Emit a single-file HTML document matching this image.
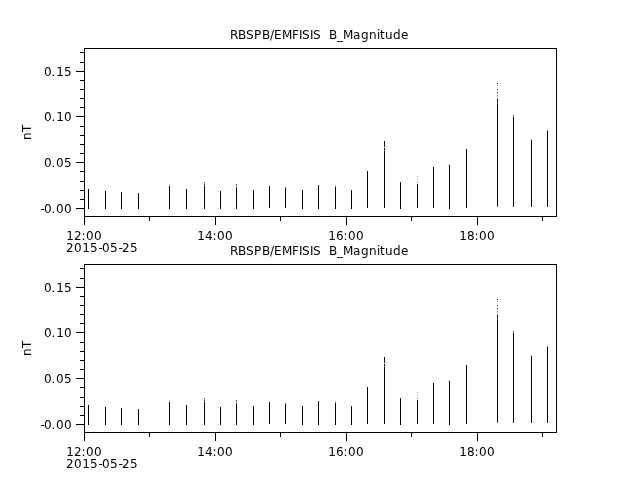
<!DOCTYPE html>
<html lang="en">
<head>
<meta charset="utf-8">
<title>RBSPB/EMFISIS B_Magnitude</title>
<style>
html,body{margin:0;padding:0;background:#fff;}
body{width:640px;height:480px;overflow:hidden;}
svg{display:block;}
.t text{font-family:"DejaVu Sans","Liberation Sans",sans-serif;font-size:12px;fill:#000;white-space:pre;}
</style>
</head>
<body>
<svg width="640" height="480" viewBox="0 0 640 480">
<rect x="0" y="0" width="640" height="480" fill="#fff"/>
<g transform="translate(0,0)">
<g shape-rendering="crispEdges" fill="#000">
<rect x="84" y="48" width="473" height="1"/>
<rect x="84" y="216" width="473" height="1"/>
<rect x="84" y="48" width="1" height="169"/>
<rect x="556" y="48" width="1" height="169"/>
<rect x="80" y="52" width="4" height="1"/>
<rect x="80" y="62" width="4" height="1"/>
<rect x="76" y="71" width="8" height="1"/>
<rect x="80" y="80" width="4" height="1"/>
<rect x="80" y="89" width="4" height="1"/>
<rect x="80" y="98" width="4" height="1"/>
<rect x="80" y="107" width="4" height="1"/>
<rect x="76" y="116" width="8" height="1"/>
<rect x="80" y="126" width="4" height="1"/>
<rect x="80" y="135" width="4" height="1"/>
<rect x="80" y="144" width="4" height="1"/>
<rect x="80" y="153" width="4" height="1"/>
<rect x="76" y="162" width="8" height="1"/>
<rect x="80" y="171" width="4" height="1"/>
<rect x="80" y="181" width="4" height="1"/>
<rect x="80" y="190" width="4" height="1"/>
<rect x="80" y="199" width="4" height="1"/>
<rect x="76" y="208" width="8" height="1"/>
<rect x="84" y="217" width="1" height="8"/>
<rect x="215" y="217" width="1" height="8"/>
<rect x="346" y="217" width="1" height="8"/>
<rect x="477" y="217" width="1" height="8"/>
<rect x="149" y="217" width="1" height="4"/>
<rect x="280" y="217" width="1" height="4"/>
<rect x="411" y="217" width="1" height="4"/>
<rect x="542" y="217" width="1" height="4"/>
<rect x="88" y="189" width="1" height="20"/>
<rect x="105" y="191" width="1" height="18"/>
<rect x="121" y="192" width="1" height="17"/>
<rect x="138" y="193" width="1" height="16"/>
<rect x="169" y="186" width="1" height="23"/>
<rect x="169" y="184" width="1" height="1" fill-opacity="0.3"/>
<rect x="169" y="185" width="1" height="1" fill-opacity="0.15"/>
<rect x="186" y="189" width="1" height="20"/>
<rect x="204" y="186" width="1" height="23"/>
<rect x="204" y="182" width="1" height="1" fill-opacity="0.7"/>
<rect x="204" y="183" width="1" height="1" fill-opacity="0.3"/>
<rect x="204" y="184" width="1" height="1" fill-opacity="0.8"/>
<rect x="204" y="185" width="1" height="1" fill-opacity="0.5"/>
<rect x="220" y="191" width="1" height="18"/>
<rect x="236" y="188" width="1" height="21"/>
<rect x="236" y="184" width="1" height="1" fill-opacity="0.7"/>
<rect x="236" y="185" width="1" height="2" fill-opacity="0.4"/>
<rect x="236" y="187" width="1" height="1" fill-opacity="0.6"/>
<rect x="253" y="190" width="1" height="19"/>
<rect x="269" y="186" width="1" height="22"/>
<rect x="285" y="188" width="1" height="20"/>
<rect x="285" y="187" width="1" height="1" fill-opacity="0.5"/>
<rect x="302" y="190" width="1" height="19"/>
<rect x="318" y="185" width="1" height="24"/>
<rect x="335" y="187" width="1" height="22"/>
<rect x="335" y="185" width="1" height="1" fill-opacity="0.4"/>
<rect x="335" y="186" width="1" height="1" fill-opacity="0.3"/>
<rect x="351" y="190" width="1" height="19"/>
<rect x="367" y="171" width="1" height="37"/>
<rect x="384" y="151" width="1" height="57"/>
<rect x="384" y="141" width="1" height="6" fill-opacity="0.95"/>
<rect x="384" y="147" width="1" height="1" fill-opacity="0.15"/>
<rect x="384" y="148" width="1" height="2" fill-opacity="0.9"/>
<rect x="384" y="150" width="1" height="1" fill-opacity="0.6"/>
<rect x="400" y="182" width="1" height="27"/>
<rect x="417" y="184" width="1" height="24"/>
<rect x="417" y="176" width="1" height="1" fill-opacity="0.25"/>
<rect x="417" y="177" width="1" height="5" fill-opacity="0.08"/>
<rect x="417" y="182" width="1" height="1" fill-opacity="0.5"/>
<rect x="417" y="183" width="1" height="1" fill-opacity="0.1"/>
<rect x="433" y="167" width="1" height="41"/>
<rect x="449" y="165" width="1" height="44"/>
<rect x="449" y="164" width="1" height="1" fill-opacity="0.3"/>
<rect x="466" y="149" width="1" height="59"/>
<rect x="497" y="104" width="1" height="102"/>
<rect x="497" y="81" width="1" height="2" fill-opacity="0.15"/>
<rect x="497" y="83" width="1" height="1" fill-opacity="0.9"/>
<rect x="497" y="85" width="1" height="1" fill-opacity="0.2"/>
<rect x="497" y="86" width="1" height="3" fill-opacity="0.08"/>
<rect x="497" y="89" width="1" height="1" fill-opacity="0.75"/>
<rect x="497" y="90" width="1" height="2" fill-opacity="0.15"/>
<rect x="497" y="92" width="1" height="1" fill-opacity="0.75"/>
<rect x="497" y="93" width="1" height="4" fill-opacity="0.25"/>
<rect x="497" y="98" width="1" height="1" fill-opacity="0.3"/>
<rect x="497" y="99" width="1" height="2" fill-opacity="0.95"/>
<rect x="497" y="101" width="1" height="3" fill-opacity="0.8"/>
<rect x="497" y="206" width="1" height="1" fill-opacity="0.4"/>
<rect x="513" y="117" width="1" height="90"/>
<rect x="513" y="115" width="1" height="1" fill-opacity="0.8"/>
<rect x="513" y="116" width="1" height="1" fill-opacity="0.5"/>
<rect x="531" y="140" width="1" height="67"/>
<rect x="531" y="139" width="1" height="1" fill-opacity="0.4"/>
<rect x="547" y="131" width="1" height="76"/>
<rect x="547" y="130" width="1" height="1" fill-opacity="0.5"/>
</g>
<g class="t">
<text xml:space="preserve" x="230 238 246 254 262 270 274 282 292 299 302 310 313 321 325 329 337 343 353 361 369 377 380 385 393 401" y="39">RBSPB/EMFISIS  B_Magnitude</text>
<text x="44 51.6 56.3 64" y="76">0.15</text>
<text x="44 51.6 56.3 64" y="121">0.10</text>
<text x="44 51.6 56 64" y="167">0.05</text>
<text x="40.4 44 51.6 56 64" y="213">-0.00</text>
<text x="66.3 74 81.5 86 94" y="240">12:00</text>
<text x="197.3 205 212.5 217 225" y="240">14:00</text>
<text x="328.3 336 343.5 348 356" y="240">16:00</text>
<text x="459.3 467 474.5 479 487" y="240">18:00</text>
<text x="66 74 82.3 90 98.4 102 110 118.4 122 130" y="252">2015-05-25</text>
<text transform="translate(31,140) rotate(-90)" x="0 7.9">nT</text>
</g>
</g>
<g transform="translate(0,216)">
<g shape-rendering="crispEdges" fill="#000">
<rect x="84" y="48" width="473" height="1"/>
<rect x="84" y="216" width="473" height="1"/>
<rect x="84" y="48" width="1" height="169"/>
<rect x="556" y="48" width="1" height="169"/>
<rect x="80" y="52" width="4" height="1"/>
<rect x="80" y="62" width="4" height="1"/>
<rect x="76" y="71" width="8" height="1"/>
<rect x="80" y="80" width="4" height="1"/>
<rect x="80" y="89" width="4" height="1"/>
<rect x="80" y="98" width="4" height="1"/>
<rect x="80" y="107" width="4" height="1"/>
<rect x="76" y="116" width="8" height="1"/>
<rect x="80" y="126" width="4" height="1"/>
<rect x="80" y="135" width="4" height="1"/>
<rect x="80" y="144" width="4" height="1"/>
<rect x="80" y="153" width="4" height="1"/>
<rect x="76" y="162" width="8" height="1"/>
<rect x="80" y="171" width="4" height="1"/>
<rect x="80" y="181" width="4" height="1"/>
<rect x="80" y="190" width="4" height="1"/>
<rect x="80" y="199" width="4" height="1"/>
<rect x="76" y="208" width="8" height="1"/>
<rect x="84" y="217" width="1" height="8"/>
<rect x="215" y="217" width="1" height="8"/>
<rect x="346" y="217" width="1" height="8"/>
<rect x="477" y="217" width="1" height="8"/>
<rect x="149" y="217" width="1" height="4"/>
<rect x="280" y="217" width="1" height="4"/>
<rect x="411" y="217" width="1" height="4"/>
<rect x="542" y="217" width="1" height="4"/>
<rect x="88" y="189" width="1" height="20"/>
<rect x="105" y="191" width="1" height="18"/>
<rect x="121" y="192" width="1" height="17"/>
<rect x="138" y="193" width="1" height="16"/>
<rect x="169" y="186" width="1" height="23"/>
<rect x="169" y="184" width="1" height="1" fill-opacity="0.3"/>
<rect x="169" y="185" width="1" height="1" fill-opacity="0.15"/>
<rect x="186" y="189" width="1" height="20"/>
<rect x="204" y="186" width="1" height="23"/>
<rect x="204" y="182" width="1" height="1" fill-opacity="0.7"/>
<rect x="204" y="183" width="1" height="1" fill-opacity="0.3"/>
<rect x="204" y="184" width="1" height="1" fill-opacity="0.8"/>
<rect x="204" y="185" width="1" height="1" fill-opacity="0.5"/>
<rect x="220" y="191" width="1" height="18"/>
<rect x="236" y="188" width="1" height="21"/>
<rect x="236" y="184" width="1" height="1" fill-opacity="0.7"/>
<rect x="236" y="185" width="1" height="2" fill-opacity="0.4"/>
<rect x="236" y="187" width="1" height="1" fill-opacity="0.6"/>
<rect x="253" y="190" width="1" height="19"/>
<rect x="269" y="186" width="1" height="22"/>
<rect x="285" y="188" width="1" height="20"/>
<rect x="285" y="187" width="1" height="1" fill-opacity="0.5"/>
<rect x="302" y="190" width="1" height="19"/>
<rect x="318" y="185" width="1" height="24"/>
<rect x="335" y="187" width="1" height="22"/>
<rect x="335" y="185" width="1" height="1" fill-opacity="0.4"/>
<rect x="335" y="186" width="1" height="1" fill-opacity="0.3"/>
<rect x="351" y="190" width="1" height="19"/>
<rect x="367" y="171" width="1" height="37"/>
<rect x="384" y="151" width="1" height="57"/>
<rect x="384" y="141" width="1" height="6" fill-opacity="0.95"/>
<rect x="384" y="147" width="1" height="1" fill-opacity="0.15"/>
<rect x="384" y="148" width="1" height="2" fill-opacity="0.9"/>
<rect x="384" y="150" width="1" height="1" fill-opacity="0.6"/>
<rect x="400" y="182" width="1" height="27"/>
<rect x="417" y="184" width="1" height="24"/>
<rect x="417" y="176" width="1" height="1" fill-opacity="0.25"/>
<rect x="417" y="177" width="1" height="5" fill-opacity="0.08"/>
<rect x="417" y="182" width="1" height="1" fill-opacity="0.5"/>
<rect x="417" y="183" width="1" height="1" fill-opacity="0.1"/>
<rect x="433" y="167" width="1" height="41"/>
<rect x="449" y="165" width="1" height="44"/>
<rect x="449" y="164" width="1" height="1" fill-opacity="0.3"/>
<rect x="466" y="149" width="1" height="59"/>
<rect x="497" y="104" width="1" height="102"/>
<rect x="497" y="81" width="1" height="2" fill-opacity="0.15"/>
<rect x="497" y="83" width="1" height="1" fill-opacity="0.9"/>
<rect x="497" y="85" width="1" height="1" fill-opacity="0.2"/>
<rect x="497" y="86" width="1" height="3" fill-opacity="0.08"/>
<rect x="497" y="89" width="1" height="1" fill-opacity="0.75"/>
<rect x="497" y="90" width="1" height="2" fill-opacity="0.15"/>
<rect x="497" y="92" width="1" height="1" fill-opacity="0.75"/>
<rect x="497" y="93" width="1" height="4" fill-opacity="0.25"/>
<rect x="497" y="98" width="1" height="1" fill-opacity="0.3"/>
<rect x="497" y="99" width="1" height="2" fill-opacity="0.95"/>
<rect x="497" y="101" width="1" height="3" fill-opacity="0.8"/>
<rect x="497" y="206" width="1" height="1" fill-opacity="0.4"/>
<rect x="513" y="117" width="1" height="90"/>
<rect x="513" y="115" width="1" height="1" fill-opacity="0.8"/>
<rect x="513" y="116" width="1" height="1" fill-opacity="0.5"/>
<rect x="531" y="140" width="1" height="67"/>
<rect x="531" y="139" width="1" height="1" fill-opacity="0.4"/>
<rect x="547" y="131" width="1" height="76"/>
<rect x="547" y="130" width="1" height="1" fill-opacity="0.5"/>
</g>
<g class="t">
<text xml:space="preserve" x="230 238 246 254 262 270 274 282 292 299 302 310 313 321 325 329 337 343 353 361 369 377 380 385 393 401" y="39">RBSPB/EMFISIS  B_Magnitude</text>
<text x="44 51.6 56.3 64" y="76">0.15</text>
<text x="44 51.6 56.3 64" y="121">0.10</text>
<text x="44 51.6 56 64" y="167">0.05</text>
<text x="40.4 44 51.6 56 64" y="213">-0.00</text>
<text x="66.3 74 81.5 86 94" y="240">12:00</text>
<text x="197.3 205 212.5 217 225" y="240">14:00</text>
<text x="328.3 336 343.5 348 356" y="240">16:00</text>
<text x="459.3 467 474.5 479 487" y="240">18:00</text>
<text x="66 74 82.3 90 98.4 102 110 118.4 122 130" y="252">2015-05-25</text>
<text transform="translate(31,140) rotate(-90)" x="0 7.9">nT</text>
</g>
</g>
</svg>
</body>
</html>
